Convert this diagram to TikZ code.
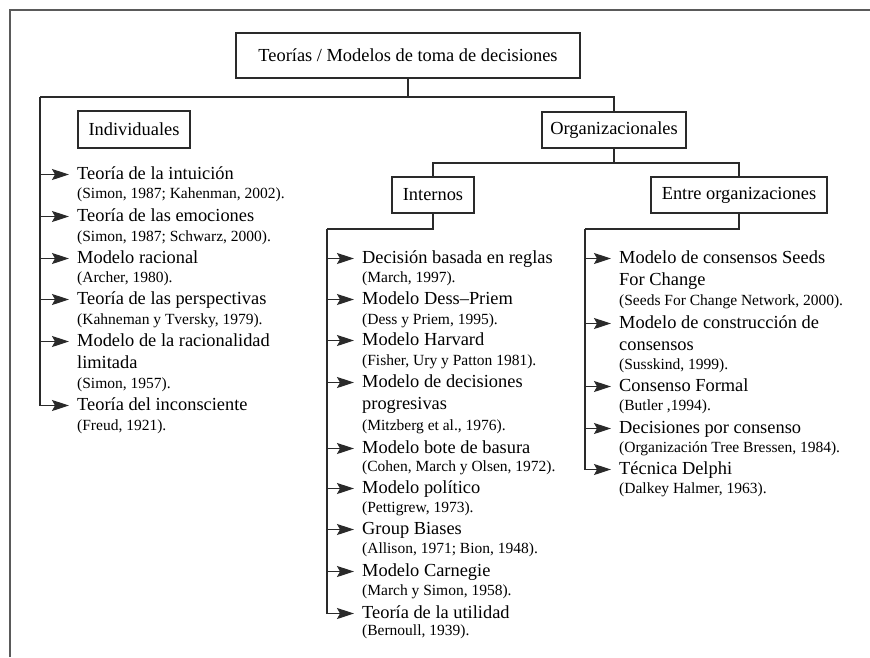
\documentclass[tikz,border=0pt]{standalone}
\usepackage{fontspec}
\setmainfont{Liberation Serif}
\usetikzlibrary{arrows.meta}

\definecolor{linegray}{HTML}{2A2A2A}
\definecolor{framegray}{HTML}{5A5A5A}

% one listed theory: title line with an arrow from its spine
\newcommand\branchitem[5]{%
  \node[ttl] (#1) at (#3,#4) {#5};
  \coordinate (#1-p) at ([yshift=4.5pt]#1.base west);
  \draw[arr] (#1-p -| #2) -- (#1-p);
}

\begin{document}
\begin{tikzpicture}[x=1pt,y=-1pt,
  box/.style={draw=linegray, line width=1.2pt, rectangle, inner sep=0pt,
    font=\fontsize{18.4}{22}\selectfont},
  ttl/.style={anchor=base west, inner sep=0pt, font=\fontsize{18.4}{22}\selectfont},
  cit/.style={anchor=base west, inner sep=0pt, font=\fontsize{15.5}{18}\selectfont},
  conn/.style={draw=linegray, line width=1.3pt},
  arr/.style={conn, shorten >=8pt, -{Stealth[length=17pt, width=11pt, inset=3pt]}}]

\useasboundingbox (0,0) rectangle (870,657);
\fill[white] (0,0) rectangle (870,657);

% outer frame (top and left edges)
\draw[framegray, line width=1.6pt] (10,657) -- (10,10) -- (870,10);

% category boxes
\node[box, minimum width=344pt, minimum height=45pt] (root) at (408,55.5)
  {Teorías / Modelos de toma de decisiones};
\node[box, minimum width=112pt, minimum height=37pt] (indiv) at (134,129.5) {Individuales};
\node[box, minimum width=144pt, minimum height=36pt] (org) at (614,130) {Organizacionales};
\node[box, minimum width=82pt, minimum height=36pt] (int) at (433,195) {Internos};
\node[box, minimum width=176pt, minimum height=36pt] (entre) at (739,195) {Entre organizaciones};

% tree connectors
\coordinate (top) at (408,97);
\coordinate (spI) at (40,97);
\coordinate (orgbar) at (614,163);
\coordinate (spN) at (327,229);
\coordinate (spE) at (585,229);

\draw[conn] (root.south) -- (top);
\draw[conn] (spI) -- (top -| org.north) -- (org.north);
\draw[conn] (org.south) -- (orgbar);
\draw[conn] (int.north) -- (int.north |- orgbar) -- (entre.north |- orgbar) -- (entre.north);
\draw[conn] (int.south) -- (int.south |- spN) -- (spN);
\draw[conn] (entre.south) -- (entre.south |- spE) -- (spE);

% individual theories
\branchitem{i1}{spI}{77}{179}{Teoría de la intuición}
\node[cit] (i1c) at (77,198) {(Simon, 1987; Kahenman, 2002).};
\branchitem{i2}{spI}{77}{221}{Teoría de las emociones}
\node[cit] (i2c) at (77,241) {(Simon, 1987; Schwarz, 2000).};
\branchitem{i3}{spI}{77}{263}{Modelo racional}
\node[cit] (i3c) at (77,282) {(Archer, 1980).};
\branchitem{i4}{spI}{77}{304}{Teoría de las perspectivas}
\node[cit] (i4c) at (77,324) {(Kahneman y Tversky, 1979).};
\branchitem{i5}{spI}{77}{346}{Modelo de la racionalidad}
\node[ttl] (i5b) at (77,368) {limitada};
\node[cit] (i5c) at (77,388) {(Simon, 1957).};
\branchitem{i6}{spI}{77}{410}{Teoría del inconsciente}
\node[cit] (i6c) at (77,430) {(Freud, 1921).};
\draw[conn] (spI) -- (i6-p -| spI);

% internal organizational models
\branchitem{n1}{spN}{362}{263}{Decisión basada en reglas}
\node[cit] (n1c) at (362,282) {(March, 1997).};
\branchitem{n2}{spN}{362}{304}{Modelo Dess–Priem}
\node[cit] (n2c) at (362,324) {(Dess y Priem, 1995).};
\branchitem{n3}{spN}{362}{345}{Modelo Harvard}
\node[cit] (n3c) at (362,365) {(Fisher, Ury y Patton 1981).};
\branchitem{n4}{spN}{362}{387}{Modelo de decisiones}
\node[ttl] (n4b) at (362,409) {progresivas};
\node[cit] (n4c) at (362,430) {(Mitzberg et al., 1976).};
\branchitem{n5}{spN}{362}{453}{Modelo bote de basura}
\node[cit] (n5c) at (362,471) {(Cohen, March y Olsen, 1972).};
\branchitem{n6}{spN}{362}{493}{Modelo político}
\node[cit] (n6c) at (362,512) {(Pettigrew, 1973).};
\branchitem{n7}{spN}{362}{534}{Group Biases}
\node[cit] (n7c) at (362,553) {(Allison, 1971; Bion, 1948).};
\branchitem{n8}{spN}{362}{576}{Modelo Carnegie}
\node[cit] (n8c) at (362,595) {(March y Simon, 1958).};
\branchitem{n9}{spN}{362}{618}{Teoría de la utilidad}
\node[cit] (n9c) at (362,635) {(Bernoull, 1939).};
\draw[conn] (spN) -- (n9-p -| spN);

% inter-organizational models
\branchitem{e1}{spE}{619}{263}{Modelo de consensos Seeds}
\node[ttl] (e1b) at (619,285) {For Change};
\node[cit] (e1c) at (619,305) {(Seeds For Change Network, 2000).};
\branchitem{e2}{spE}{619}{328}{Modelo de construcción de}
\node[ttl] (e2b) at (619,350) {consensos};
\node[cit] (e2c) at (619,369) {(Susskind, 1999).};
\branchitem{e3}{spE}{619}{391}{Consenso Formal}
\node[cit] (e3c) at (619,410) {(Butler ,1994).};
\branchitem{e4}{spE}{619}{433}{Decisiones por consenso}
\node[cit] (e4c) at (619,452) {(Organización Tree Bressen, 1984).};
\branchitem{e5}{spE}{619}{474}{Técnica Delphi}
\node[cit] (e5c) at (619,493) {(Dalkey Halmer, 1963).};
\draw[conn] (spE) -- (e5-p -| spE);

\end{tikzpicture}
\end{document}
